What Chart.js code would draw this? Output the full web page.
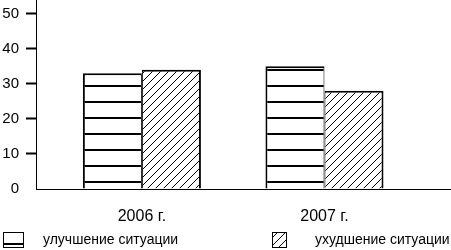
<!DOCTYPE html>
<html>
<head>
<meta charset="utf-8">
<script src="https://cdn.jsdelivr.net/npm/chart.js@4.4.0/dist/chart.umd.min.js"></script>
<style>
  html, body { margin: 0; padding: 0; background: #fff; }
  #wrap { width: 451px; height: 250px; position: relative; }
</style>
</head>
<body>
<div id="wrap"><canvas id="chart"></canvas></div>
<script>
// данные диаграммы
const years = ['2006 г.', '2007 г.'];
const seriesLabels = ['улучшение ситуации', 'ухудшение ситуации'];
const improve = [33, 35];
const worsen = [34, 28];
const yTicks = [0, 10, 20, 30, 40, 50];

const FONT = "'Liberation Sans', Arial, sans-serif";

// горизонтальные полосы
function stripePattern() {
    const c = document.createElement('canvas');
    c.width = 16; c.height = 16;
    const g = c.getContext('2d');
    g.fillStyle = '#fff';
    g.fillRect(0, 0, 16, 16);
    g.fillStyle = '#000';
    g.fillRect(0, 5, 16, 2);
    return g.createPattern(c, 'repeat');
}

// диагональная штриховка
function hatchPattern() {
    const c = document.createElement('canvas');
    c.width = 8; c.height = 8;
    const g = c.getContext('2d');
    g.fillStyle = '#fff';
    g.fillRect(0, 0, 8, 8);
    g.fillStyle = '#000';
    for (let i = 0; i < 8; i++) {
        g.fillRect(i, 7 - i, 1, 1);
    }
    return g.createPattern(c, 'repeat');
}

const boxLegend = {
    id: 'boxLegend',
    afterDraw(chart) {
        const ctx = chart.ctx;
        const items = [
            { x: 3, w: 20, tx: 43 },
            { x: 272, w: 14, tx: 315 }
        ];
        ctx.save();
        chart.data.datasets.forEach((ds, i) => {
            const it = items[i];
            ctx.save();
            ctx.translate(0, -2);
            ctx.fillStyle = ds.backgroundColor;
            ctx.fillRect(it.x, 234, it.w, 15);
            ctx.restore();
            ctx.strokeStyle = '#000';
            ctx.lineWidth = 1;
            ctx.strokeRect(it.x + 0.5, 232.5, it.w, 15);
            ctx.fillStyle = '#000';
            ctx.font = '14px ' + FONT;
            ctx.textBaseline = 'middle';
            ctx.textAlign = 'left';
            ctx.fillText(ds.label, it.tx, 240);
        });
        ctx.restore();
    }
};

const ctx = document.getElementById('chart').getContext('2d');
new Chart(ctx, {
    type: 'bar',
    data: {
        datasets: [
            {
                label: seriesLabels[0],
                data: improve.map((v, i) => ({ x: i + 1, y: v })),
                backgroundColor: stripePattern(),
                borderColor: '#000',
                borderWidth: { left: 2, right: 1, top: 2, bottom: 0 },
                borderSkipped: false
            },
            {
                label: seriesLabels[1],
                data: worsen.map((v, i) => ({ x: i + 1, y: v })),
                backgroundColor: hatchPattern(),
                borderColor: '#000',
                borderWidth: { left: 1, right: 2, top: 2, bottom: 0 },
                borderSkipped: false
            }
        ]
    },
    options: {
        responsive: true,
        maintainAspectRatio: false,
        animation: false,
        categoryPercentage: 0.6466,
        barPercentage: 1,
        layout: { padding: { left: 0, right: 0, top: 0, bottom: 25 } },
        plugins: {
            legend: { display: false },
            tooltip: { enabled: false }
        },
        scales: {
            x: {
                type: 'linear',
                offset: false,
                min: 0.42,
                max: 2.693,
                afterBuildTicks: (scale) => {
                    scale.ticks = years.map((_, i) => ({ value: i + 1 }));
                },
                afterFit: (scale) => {
                    scale.height = 36;
                    scale.paddingLeft = 0;
                    scale.paddingRight = 0;
                },
                grid: { display: false, drawTicks: false },
                border: { display: true, color: '#000', width: 1 },
                ticks: {
                    color: '#000',
                    font: { family: FONT, size: 16 },
                    padding: 18,
                    maxRotation: 0,
                    callback: (value) => years[value - 1]
                }
            },
            y: {
                min: 0,
                max: 53.86,
                afterBuildTicks: (scale) => {
                    scale.ticks = yTicks.map(v => ({ value: v }));
                },
                afterFit: (scale) => {
                    scale.width = 36;
                    scale.paddingTop = 0;
                    scale.paddingBottom = 0;
                },
                grid: {
                    display: true,
                    drawOnChartArea: false,
                    drawTicks: true,
                    tickLength: 10,
                    tickWidth: 2,
                    tickColor: (c) => (c.tick && c.tick.value === 0 ? 'rgba(0,0,0,0)' : '#000')
                },
                border: { display: true, color: '#000', width: 1 },
                ticks: {
                    color: '#000',
                    font: { family: FONT, size: 15 },
                    padding: 7
                }
            }
        }
    },
    plugins: [boxLegend]
});
</script>
</body>
</html>
